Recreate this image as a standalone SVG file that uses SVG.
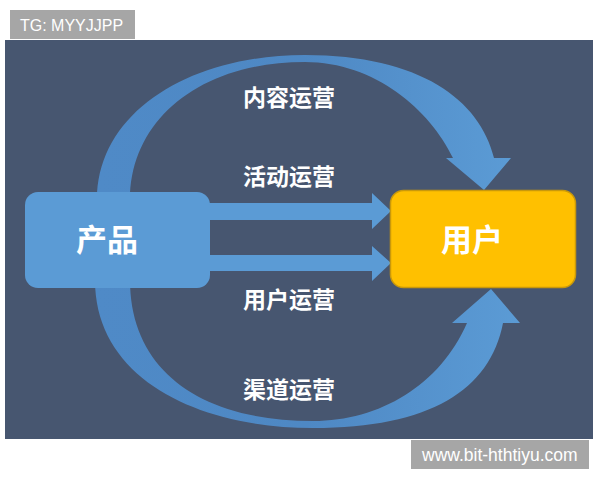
<svg xmlns="http://www.w3.org/2000/svg" width="600" height="480" viewBox="0 0 600 480">
<defs>
<style>
.lbl{font-family:"Noto Sans CJK SC","Noto Sans",sans-serif;font-weight:bold;fill:#ffffff;text-anchor:middle}
.wm{font-family:"Liberation Sans",Arial,sans-serif;fill:#ffffff}
.flow{fill:url(#g1)}
.flat{fill:#5b9bd5}
</style>
<linearGradient id="g1" x1="0" y1="0" x2="1" y2="0">
<stop offset="0" stop-color="#4f8ac7"/>
<stop offset="0.5" stop-color="#4e88c4"/>
<stop offset="1" stop-color="#5b9bd5"/>
</linearGradient>
</defs>
<rect x="0" y="0" width="600" height="480" fill="#ffffff"/>
<rect x="5" y="40" width="588" height="399" fill="#475670"/>
<g id="connectors">
<path class="flow" d="M97,200 C97,112 190,55 305,55 C420,55 480,100 494,158 L511,158 L484,190 L446,158 L453,158 C430,110 375,62 305,62 C200,62 130,120 130,200 Z"/>
<path class="flow" d="M95,280 C95,380 200,428 313,428 C430,428 490,390 503,323 L520,323 L491,289 L452,323 L467,323 C440,385 380,421 313,421 C200,421 130,370 130,280 Z"/>
<path class="flat" d="M205,203 L372,203 L372,193 L391,211 L372,229 L372,220 L205,220 Z"/>
<path class="flat" d="M205,255 L372,255 L372,246 L391,263 L372,281 L372,271 L205,271 Z"/>
</g>
<g id="product">
<rect x="25" y="192" width="185" height="96" rx="13" fill="#5b9bd5"/>
<text class="lbl" x="107" y="251" font-size="31">产品</text>
</g>
<g id="user">
<rect x="390.5" y="190.5" width="185" height="97" rx="13" fill="#ffc000" stroke="#c9980a" stroke-width="1.5"/>
<text class="lbl" x="472" y="251" font-size="31" fill="#fffbe8">用户</text>
</g>
<g id="labels">
<text class="lbl" x="289" y="106" font-size="23">内容运营</text>
<text class="lbl" x="289" y="185" font-size="23">活动运营</text>
<text class="lbl" x="289" y="308" font-size="23">用户运营</text>
<text class="lbl" x="289" y="398" font-size="23">渠道运营</text>
</g>
<g id="tg">
<rect x="10" y="10" width="125" height="29" fill="#a6a6a6"/>
<text class="wm" x="20" y="31" font-size="16">TG: MYYJJPP</text>
</g>
<g id="site">
<rect x="411" y="440" width="178" height="29" fill="#a6a6a6"/>
<text class="wm" x="422" y="461" font-size="17.5">www.bit-hthtiyu.com</text>
</g>
</svg>
